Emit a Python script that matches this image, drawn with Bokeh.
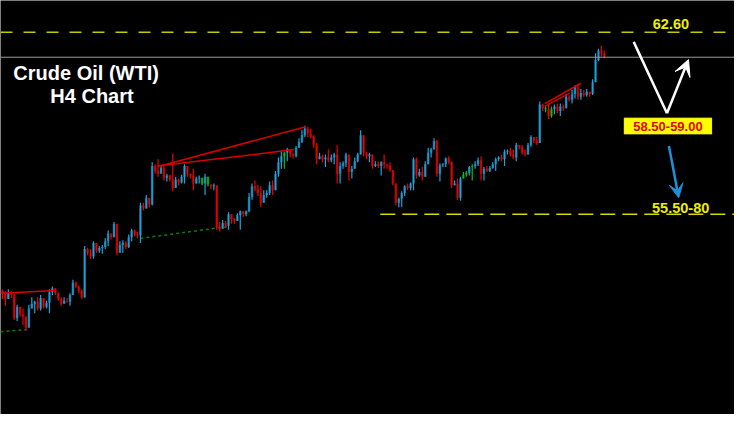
from bokeh.plotting import figure
from bokeh.models import Range1d, Label, BoxAnnotation, Arrow, VeeHead, Span, ColumnDataSource
from bokeh.embed import file_html
from bokeh.resources import INLINE

# ---------------- data (WTI crude, H4 candles) ----------------
close = [
    52.61, 52.35, 52.57, 52.50, 51.61, 52.05, 51.76, 51.68, 51.24, 51.98,
    52.17, 52.24, 51.98, 52.39, 52.05, 52.20, 52.61, 52.76, 52.57, 52.35,
    52.17, 52.28, 52.24, 52.50, 52.98, 52.83, 52.65, 52.42, 54.27, 54.13,
    53.98, 54.50, 54.20, 54.31, 54.35, 54.57, 54.87, 54.72, 55.24, 54.13,
    54.42, 54.50, 54.35, 54.72, 54.98, 54.83, 54.79, 55.94, 55.83, 56.24,
    55.98, 57.46, 57.27, 57.16, 57.38, 57.01, 57.09, 56.94, 56.61, 56.94,
    56.83, 57.05, 57.46, 57.16, 57.09, 56.79, 56.98, 57.01, 56.79, 57.05,
    56.75, 56.68, 56.72, 55.09, 55.05, 55.27, 55.16, 55.61, 55.42, 55.35,
    55.57, 55.72, 55.61, 55.72, 56.27, 56.68, 56.57, 56.42, 56.05, 56.35,
    56.42, 56.72, 56.53, 57.16, 57.60, 57.83, 57.97, 58.09, 57.90, 57.83,
    58.16, 58.38, 58.64, 58.90, 58.71, 58.60, 58.27, 57.72, 57.83, 57.72,
    57.79, 57.68, 57.79, 57.90, 57.16, 57.46, 57.57, 57.90, 57.23, 57.35,
    57.64, 57.90, 58.64, 57.97, 57.83, 57.90, 57.46, 57.53, 57.46, 57.60,
    57.53, 57.49, 57.31, 56.79, 56.05, 56.20, 56.42, 56.68, 56.61, 56.79,
    57.72, 57.09, 57.23, 57.05, 57.53, 57.97, 58.09, 58.42, 57.16, 57.49,
    57.53, 57.75, 57.60, 56.72, 56.79, 56.24, 56.98, 57.12, 57.20, 57.42,
    57.46, 57.53, 57.68, 57.16, 57.35, 57.27, 57.38, 57.53, 57.72, 57.79,
    57.72, 58.01, 58.05, 57.90, 57.79, 58.27, 58.20, 57.97, 57.90, 58.27,
    58.57, 58.42, 58.34, 59.82, 59.68, 59.64, 59.38, 59.64, 59.75, 59.57,
    59.75, 59.68, 60.12, 60.01, 60.23, 60.49, 60.12, 60.27, 60.19, 60.31,
    60.23, 60.68, 61.53, 61.90, 61.79, 61.64,
]
high = [
    52.72, 52.65, 52.72, 52.65, 52.54, 52.13, 51.91, 51.98, 51.54, 52.13,
    52.42, 52.28, 52.42, 52.50, 52.24, 52.28, 52.72, 52.83, 52.72, 52.61,
    52.42, 52.42, 52.39, 52.57, 53.09, 53.02, 52.87, 52.72, 54.39, 54.31,
    54.27, 54.57, 54.39, 54.39, 54.42, 54.68, 54.98, 54.87, 55.31, 55.20,
    54.57, 54.61, 54.57, 54.83, 55.05, 55.01, 54.94, 56.05, 56.05, 56.35,
    56.16, 57.60, 57.53, 57.72, 57.46, 57.46, 57.16, 57.12, 57.94, 57.05,
    56.98, 57.12, 57.53, 57.46, 57.16, 57.35, 57.05, 57.09, 56.86, 57.16,
    56.83, 56.75, 56.79, 56.68, 55.31, 55.38, 55.35, 55.68, 55.50, 55.46,
    55.64, 55.75, 55.68, 55.75, 56.42, 56.79, 56.90, 56.72, 56.68, 56.53,
    56.53, 56.86, 56.90, 57.27, 57.79, 58.01, 58.01, 58.16, 58.01, 57.97,
    58.23, 58.53, 58.83, 59.01, 58.97, 58.90, 58.64, 58.34, 57.97, 57.90,
    57.90, 58.09, 57.90, 57.97, 58.27, 57.60, 57.64, 57.97, 57.90, 57.46,
    57.79, 57.97, 58.83, 58.38, 58.01, 57.97, 57.83, 57.64, 57.64, 57.64,
    57.90, 57.53, 57.60, 57.27, 56.49, 56.24, 56.49, 56.72, 56.79, 56.83,
    57.79, 57.79, 57.35, 57.42, 57.64, 58.16, 58.16, 58.53, 58.46, 57.57,
    57.57, 57.79, 57.83, 57.64, 56.90, 56.98, 57.05, 57.23, 57.27, 57.46,
    57.53, 57.64, 57.79, 57.83, 57.42, 57.46, 57.46, 57.60, 57.79, 57.83,
    57.90, 58.09, 58.09, 58.16, 58.09, 58.34, 58.27, 58.27, 58.09, 58.34,
    58.64, 58.53, 58.57, 59.94, 59.86, 59.75, 59.86, 59.75, 59.82, 59.86,
    59.86, 59.82, 60.23, 60.19, 60.38, 60.56, 60.60, 60.42, 60.38, 60.42,
    60.31, 60.79, 61.79, 61.97, 62.08, 61.90,
]
low = [
    52.35, 52.09, 52.42, 52.39, 51.54, 51.50, 51.68, 51.35, 51.13, 51.24,
    52.05, 51.80, 51.91, 51.91, 51.98, 51.98, 51.80, 52.50, 52.50, 52.28,
    52.09, 52.20, 52.20, 52.09, 52.50, 52.76, 52.57, 52.35, 52.40, 54.02,
    53.90, 53.90, 54.13, 54.13, 54.09, 54.27, 54.39, 54.64, 54.76, 54.02,
    54.20, 54.13, 54.27, 54.31, 54.57, 54.76, 54.68, 54.50, 55.75, 55.83,
    55.87, 55.94, 57.16, 57.05, 57.16, 56.90, 56.86, 56.86, 56.49, 56.72,
    56.72, 56.79, 56.79, 57.05, 56.98, 56.53, 56.79, 56.79, 56.72, 56.35,
    56.68, 56.57, 56.53, 55.01, 54.94, 55.05, 55.09, 55.01, 55.24, 55.24,
    55.42, 55.01, 55.50, 55.53, 55.68, 56.16, 56.49, 56.31, 55.87, 56.12,
    56.24, 56.35, 56.35, 56.61, 57.05, 57.35, 57.35, 57.64, 57.79, 57.75,
    57.79, 58.31, 58.34, 58.57, 58.57, 58.53, 58.16, 57.53, 57.72, 57.60,
    57.42, 57.60, 57.60, 57.53, 56.79, 56.79, 57.35, 57.42, 56.90, 56.98,
    57.46, 57.60, 57.90, 57.83, 57.72, 57.60, 57.35, 57.42, 57.38, 57.09,
    57.35, 57.35, 57.23, 56.72, 55.94, 55.87, 55.87, 56.31, 56.53, 56.53,
    56.53, 56.98, 57.05, 56.90, 57.05, 57.79, 57.79, 58.16, 57.05, 56.86,
    57.42, 57.42, 57.53, 56.61, 56.72, 56.16, 56.12, 56.98, 57.05, 57.09,
    56.90, 57.35, 57.46, 56.90, 56.90, 57.23, 57.23, 57.35, 57.27, 57.64,
    57.64, 57.46, 57.90, 57.83, 57.72, 57.64, 58.09, 57.90, 57.83, 57.90,
    58.20, 58.34, 58.27, 58.46, 59.57, 59.53, 59.27, 59.31, 59.45, 59.49,
    59.38, 59.57, 59.68, 59.94, 59.86, 60.05, 60.01, 60.01, 60.12, 60.12,
    60.12, 60.19, 60.68, 61.49, 61.67, 61.60,
]
first_open = 52.65
green_bars = [68, 70, 96, 157, 158, 160, 185, 187]

# analyst levels / annotations (price levels)
resistance = 62.60
support = 55.61
zone_text = "58.50-59.00"
top_text = "62.60"
support_text = "55.50-80"
title_1 = "Crude Oil (WTI)"
title_2 = "H4 Chart"

# trend lines: (bar index, price) anchors
trend_red = [
    ([-0.7, 18.3], [52.57, 52.68]),
    ([53.7, 103.3], [57.46, 58.97]),
    ([52.7, 99.3], [57.46, 58.09]),
    ([184.7, 197.0], [59.86, 60.64]),
    ([184.7, 193.3], [59.75, 60.27]),
]
trend_green = [
    ([-0.7, 8.3], [51.09, 51.17]),
    ([47.0, 76.7], [54.68, 55.13]),
]

# ---------------- build candles ----------------
n = len(close)
opens = [first_open] + close[:-1]
xs = list(range(n))
tops, bots, his, los, wick_c, body_c = [], [], [], [], [], []
for i in xs:
    o, c = opens[i], close[i]
    t, b = max(o, c), min(o, c)
    if t - b < 0.03:
        t, b = t + 0.015, b - 0.015
    tops.append(t)
    bots.append(b)
    his.append(max(high[i], t))
    los.append(min(low[i], b))
    if i in green_bars:
        wick_c.append("#10c010"); body_c.append("#0a7a0a")
    elif c >= o:
        wick_c.append("#1ea2dc"); body_c.append("#0f6d92")
    else:
        wick_c.append("#ee0000"); body_c.append("#940000")

src = ColumnDataSource(dict(x=xs, top=tops, bottom=bots, high=his, low=los,
                            wc=wick_c, bc=body_c))

p = figure(width=734, height=414, output_backend="svg", toolbar_location=None,
           x_range=Range1d(-0.667, 249.333), y_range=Range1d(47.91, 63.82),
           min_border=0, background_fill_color="black", border_fill_color="black")
p.outline_line_color = None
p.xaxis.visible = False
p.yaxis.visible = False
p.xgrid.visible = False
p.ygrid.visible = False

# levels
p.add_layout(Span(location=resistance, dimension="width", line_color="#c8c800",
                  line_width=1.5, line_dash="12 11"))
p.segment(x0=[128.7], y0=[support], x1=[252], y1=[support], line_color="#d8d800",
          line_width=1.5, line_dash="15 7")
p.add_layout(Span(location=close[-1], dimension="width", line_color="#9a9a9a", line_width=1))

for tx, ty in trend_green:
    p.line(tx, ty, line_color="#0a7a0a", line_width=1.5, line_dash="3 3")

p.vbar(x="x", top="top", bottom="bottom", width=0.85, source=src,
       fill_color="bc", line_color=None)
p.segment(x0="x", y0="low", x1="x", y1="high", source=src, line_color="wc", line_width=1.2)

for tx, ty in trend_red:
    p.line(tx, ty, line_color="#d80000", line_width=1.5)

# texts (positions in bar-index / price units)
FONT = "Liberation Sans"
p.add_layout(Label(x=28.5, y=61.05, text=title_1,
                   text_color="white", text_font=FONT, text_font_style="bold",
                   text_font_size="20px", text_align="center", text_baseline="middle"))
p.add_layout(Label(x=30.5, y=60.16, text=title_2,
                   text_color="white", text_font=FONT, text_font_style="bold",
                   text_font_size="20px", text_align="center", text_baseline="middle"))
p.add_layout(Label(x=227.67, y=62.93, text=top_text,
                   text_color="#eeee00", text_font=FONT, text_font_style="bold",
                   text_font_size="14.5px", text_align="center", text_baseline="middle"))
p.add_layout(Label(x=231.0, y=55.85, text=support_text,
                   text_color="#eeee00", text_font=FONT, text_font_style="bold",
                   text_font_size="14.5px", text_align="center", text_baseline="middle"))

# zone box
p.add_layout(BoxAnnotation(left=211.67, right=241.67, top=59.31, bottom=58.68,
                           fill_color="#ffff00", fill_alpha=1.0, line_color="#b0a000",
                           line_width=1))
p.add_layout(Label(x=226.67, y=58.99, text=zone_text,
                   text_color="#e80000", text_font=FONT, text_font_style="bold",
                   text_font_size="13px", text_align="center", text_baseline="middle"))

# arrows
p.add_layout(Arrow(end=None, x_start=215.0, y_start=62.23, x_end=226.33, y_end=59.49,
                   line_color="white", line_width=2.5))
p.add_layout(Arrow(end=VeeHead(size=16, fill_color="white", line_color="white"),
                   x_start=226.33, y_start=59.49, x_end=233.67, y_end=61.55,
                   line_color="white", line_width=2.5))
p.add_layout(Arrow(end=VeeHead(size=14, fill_color="#1e90d8", line_color="#1e90d8"),
                   x_start=227.0, y_start=58.23, x_end=230.33, y_end=56.24,
                   line_color="#1e90d8", line_width=2.5))

open("out.html", "w").write(file_html(p, INLINE))
